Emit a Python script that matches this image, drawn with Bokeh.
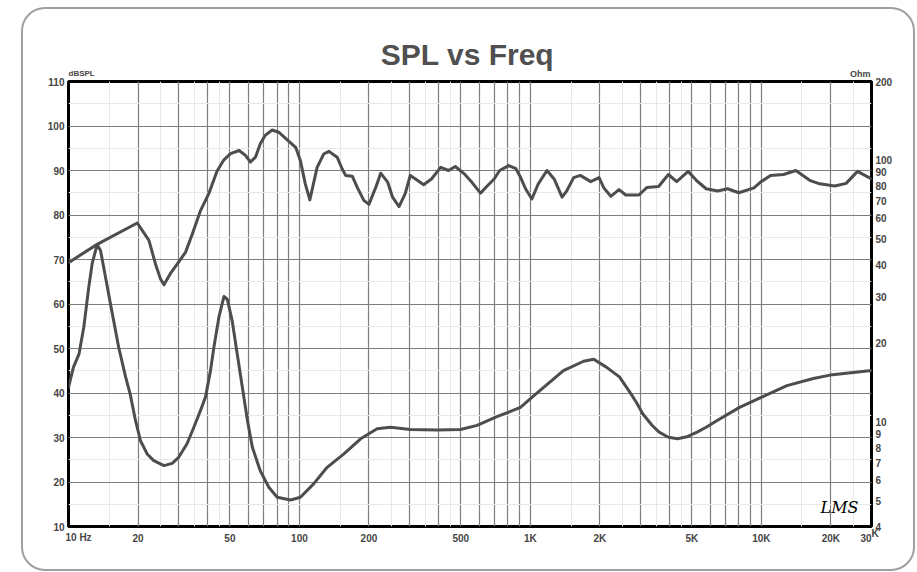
from bokeh.plotting import figure
from bokeh.models import (Range1d, LogScale, LogAxis, FixedTicker, Label,
                          AllLabels)
from bokeh.embed import file_html
from bokeh.resources import INLINE

# ---------------- data ----------------
spl_freq = [10, 13.3, 19.85, 22.3, 23.8, 25.0, 25.9, 27.6, 29.6, 32.1, 34.4,
            37.3, 40.5, 44.0, 47.1, 50.3, 54.8, 58.4, 61.4, 64.5, 67.7, 71.1,
            76.2, 81.3, 88.6, 96.3, 101, 106, 110.9, 119.3, 127.3,
            134.2, 145.7, 153, 158.5, 169.5, 178, 190, 200, 214, 224.8, 241,
            253, 270, 287, 302, 324, 345, 373, 409, 442, 473, 516, 557, 608,
            647, 697, 736, 805, 866, 906, 953, 1015, 1082, 1180, 1267, 1372,
            1440, 1540, 1645, 1825, 1983, 2080, 2230, 2420, 2588, 2950, 3200,
            3590, 3960, 4300, 4820, 5230, 5770, 6470, 7140, 7990, 9300, 9920,
            10960, 12470, 14100, 16200, 17900, 20800, 23300, 26100, 30000]
spl_db = [69.3, 73.4, 78.2, 74.3, 69.0, 65.7, 64.3, 66.8, 69.0, 71.6, 75.8,
          81.0, 84.8, 89.9, 92.4, 93.8, 94.5, 93.4, 91.9, 93.0, 96.0, 97.9,
          99.1, 98.6, 96.9, 95.2, 92.2, 87.0, 83.4, 90.7, 93.7,
          94.3, 93.0, 90.4, 88.9, 88.7, 86.2, 83.3, 82.4, 86.2, 89.4, 87.4,
          84.0, 81.9, 84.8, 88.9, 87.8, 86.8, 88.1, 90.7, 90.0, 90.9, 89.3,
          87.4, 84.9, 86.4, 88.1, 90.0, 91.1, 90.4, 88.5, 85.9, 83.6, 87.0,
          90.0, 88.1, 84.0, 85.5, 88.4, 88.9, 87.5, 88.4, 86.1, 84.2, 85.7,
          84.5, 84.5, 86.2, 86.4, 89.1, 87.5, 89.8, 87.8, 85.9, 85.4, 85.9,
          85.0, 86.1, 87.4, 88.9, 89.1, 90.0, 87.8, 87.0, 86.5, 87.1, 89.8,
          88.1]

imp_freq = [10, 10.5, 11.1, 11.65, 12.24, 12.66, 13.3, 13.76, 14.2, 15.2,
            16.5, 17.67, 18.5, 19.5, 20.5, 21.9, 23.4, 25.9, 28.1, 30.0, 32.6,
            34.9, 37.3, 39.2, 41.2, 42.6, 44.8, 47.1, 48.7, 51.1, 53.8, 56.6,
            59.5, 62.5, 67.6, 73.7, 80.1, 91.5, 101, 115.2, 131.8, 155.8,
            184, 217, 248, 302, 395, 498, 588, 716, 906, 1033, 1390, 1700,
            1880, 2140, 2430, 2700, 2880, 3070, 3370, 3610, 3960, 4340, 4760,
            5270, 5770, 6440, 8050, 10320, 12910, 16800, 20350, 30000]
imp_ohm = [13.6, 16.2, 18.2, 23.1, 32.8, 40.3, 47.7, 45.3, 39.1, 28.3,
           19.3, 14.9, 12.8, 10.16, 8.5, 7.57, 7.14, 6.83, 6.97, 7.35, 8.28,
           9.57, 11.1, 12.5, 15.75, 19.3, 25.2, 30.2, 29.5, 24.5, 18.2, 13.6,
           10.2, 8.04, 6.54, 5.65, 5.17, 5.05, 5.17, 5.82, 6.73, 7.57,
           8.65, 9.44, 9.57, 9.38, 9.35, 9.38, 9.73, 10.5, 11.4, 12.6, 15.75,
           17.1, 17.4, 16.2, 14.9, 13.0, 11.9, 10.76, 9.72, 9.17, 8.77, 8.65,
           8.8, 9.17, 9.57, 10.16, 11.4, 12.6, 13.8, 14.7, 15.2, 15.75]

x_tick_vals = [20, 50, 100, 200, 500, 1000, 2000, 5000, 10000, 20000]
x_tick_labels = ["20", "50", "100", "200", "500", "1K", "2K", "5K", "10K", "20K"]
db_ticks = [10, 20, 30, 40, 50, 60, 70, 80, 90, 100, 110]
ohm_ticks = [4, 5, 6, 7, 8, 9, 10, 20, 30, 40, 50, 60, 70, 80, 90, 100, 200]
grid_freqs = [20, 30, 40, 50, 60, 70, 80, 90, 100, 200, 300, 400, 500, 600,
              700, 800, 900, 1000, 2000, 3000, 4000, 5000, 6000, 7000, 8000,
              9000, 10000, 20000]
minor_freqs = [15, 25, 35, 45, 150, 250, 350, 450, 1500, 2500, 3500, 4500,
               15000, 25000]
db_grid = [20, 30, 40, 50, 60, 70, 80, 90, 100]
db_minor = [15, 25, 35, 45, 55, 65, 75, 85, 95, 105]

LABEL_COLOR = "#454545"
FONT = "Liberation Sans"

p = figure(width=894, height=564, x_axis_type="log",
           x_range=Range1d(10, 30000), y_range=Range1d(10, 110),
           output_backend="svg", toolbar_location=None, title=None,
           min_border_left=47, min_border_right=44, min_border_top=74,
           min_border_bottom=45)
p.styles = {"margin-left": "21px", "margin-top": "7px",
            "outline": "2px solid #a0a0a0", "outline-offset": "-2px",
            "border-radius": "24px"}
p.background_fill_color = "white"
p.border_fill_color = None
p.outline_line_color = "black"
p.outline_line_width = 3

p.extra_y_ranges = {"ohm": Range1d(4, 200)}
p.extra_y_scales = {"ohm": LogScale()}

# grids
p.xgrid.ticker = FixedTicker(ticks=grid_freqs, minor_ticks=minor_freqs)
p.ygrid.ticker = FixedTicker(ticks=db_grid, minor_ticks=db_minor)
for g in (p.xgrid[0], p.ygrid[0]):
    g.grid_line_color = "#7e7e7e"
    g.grid_line_width = 1.2
    g.minor_grid_line_color = "#e8e8e8"
    g.minor_grid_line_width = 1


def style_axis(ax, standoff):
    ax.axis_line_color = None
    ax.major_tick_line_color = None
    ax.minor_tick_line_color = None
    ax.major_tick_out = 0
    ax.major_tick_in = 0
    ax.minor_tick_out = 0
    ax.major_label_standoff = standoff
    ax.major_label_text_font = FONT
    ax.major_label_text_font_style = "bold"
    ax.major_label_text_font_size = "10px"
    ax.major_label_text_color = LABEL_COLOR
    ax.major_label_policy = AllLabels()


xa = p.xaxis[0]
xa.ticker = FixedTicker(ticks=x_tick_vals)
xa.major_label_overrides = {v: s for v, s in zip(x_tick_vals, x_tick_labels)}
style_axis(xa, 6)

ya = p.yaxis[0]
ya.ticker = FixedTicker(ticks=db_ticks)
ya.major_label_overrides = {v: str(v) for v in db_ticks}
style_axis(ya, 4)

ra = LogAxis(y_range_name="ohm", ticker=FixedTicker(ticks=ohm_ticks))
ra.major_label_overrides = {v: str(v) for v in ohm_ticks}
style_axis(ra, 4)
p.add_layout(ra, "right")

# curves
p.line(spl_freq, spl_db, line_color="#4d4d4d", line_width=3,
       line_join="round", line_cap="round")
p.line(imp_freq, imp_ohm, y_range_name="ohm", line_color="#4d4d4d",
       line_width=3, line_join="round", line_cap="round")


# texts (canvas coordinates, placed in side panels so they are not clipped)
def add_label(side, text, x, y, size, align="left", style="bold",
              font=FONT, color=LABEL_COLOR):
    p.add_layout(Label(x=x, y=y, x_units="canvas", y_units="canvas", text=text,
                       text_font=font, text_font_size=size,
                       text_font_style=style, text_align=align,
                       text_baseline="middle", text_color=color), side)


add_label("above", "SPL vs Freq", 446, 47, "30px", align="center",
          color="#505050")
add_label("above", "dBSPL", 47, 66, "8px")
add_label("above", "Ohm", 849, 66, "9px", align="right")
add_label("below", "10  Hz", 44, 530, "10px")
add_label("right", "30", 850, 530, "10px", align="right")
add_label("right", "K", 850, 526, "10px")

p.add_layout(Label(x=752, y=19, x_units="screen", y_units="screen", text="LMS",
                   text_font="DejaVu Serif", text_font_size="16px",
                   text_font_style="italic", text_align="left",
                   text_baseline="middle", text_color="black"))

open("out.html", "w").write(file_html(p, INLINE))
